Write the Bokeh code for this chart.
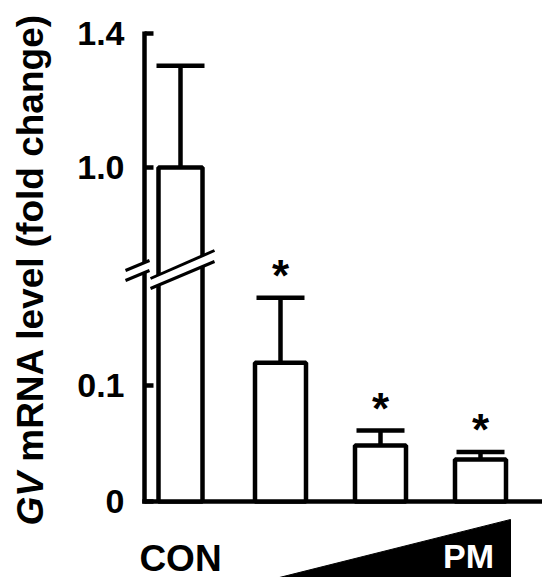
import math
from bokeh.plotting import figure
from bokeh.models import (ColumnDataSource, CustomJSTransform, FixedTicker,
                          Label, PolyAnnotation, Arrow, Range1d)
from bokeh.transform import transform
from bokeh.core.properties import value
from bokeh.embed import file_html
from bokeh.resources import INLINE

# ---------------- data ----------------
categories = ["CON", "PM low", "PM mid", "PM high"]
means = [1.0, 0.119, 0.048, 0.036]
errors = [0.304, 0.056, 0.013, 0.0065]
significance = ["", "*", "*", "*"]
tick_values = [0, 0.1, 1.0, 1.4]
tick_labels = ["0", "0.1", "1.0", "1.4"]
dose_label = "PM"

# ---------------- broken-axis scale (display units ~ px) ----------------
LOW_SCALE = 1165.0   # 0 .. CUT
HIGH_BASE = 334.0    # display position of 1.0
HIGH_SCALE = 335.0
CUT = 0.4


def to_display(v):
    return v * LOW_SCALE if v <= CUT else HIGH_BASE + (v - 1.0) * HIGH_SCALE


brk = CustomJSTransform(
    args=dict(lo=LOW_SCALE, base=HIGH_BASE, hi=HIGH_SCALE, cut=CUT),
    func="return x <= cut ? x*lo : base + (x - 1.0)*hi;",
    v_func="""
const out = new Array(xs.length);
for (let i = 0; i < xs.length; i++) {
  const v = xs[i];
  out[i] = v <= cut ? v*lo : base + (v - 1.0)*hi;
}
return out;
""")

FONT = "Liberation Sans"
BAR_W = [0.44, 0.51, 0.51, 0.51]
CAP_HALF = 0.24
LW = 4.5
AXIS_X = -0.36

xs = list(range(len(categories)))
src = ColumnDataSource(dict(
    x=xs,
    cat=categories,
    mean=means,
    cap=[m + e for m, e in zip(means, errors)],
    cap_l=[x - CAP_HALF for x in xs],
    cap_r=[x + CAP_HALF for x in xs],
    w=BAR_W,
    sig=significance,
))

p = figure(width=542, height=577,
           x_range=Range1d(-1.80, 3.62), y_range=Range1d(-76, 501),
           output_backend="svg", toolbar_location=None,
           min_border_left=0, min_border_right=0,
           min_border_top=0, min_border_bottom=0)
p.outline_line_color = None
p.grid.visible = False
p.xaxis.visible = False

# y axis (placed inside the frame so the break marks can cross it)
yax = p.yaxis[0]
yax.fixed_location = AXIS_X
tick_pos = [round(to_display(v), 2) for v in tick_values]
yax.ticker = FixedTicker(ticks=tick_pos, minor_ticks=[])
yax.major_label_overrides = {t: l for t, l in zip(tick_pos, tick_labels)}
yax.bounds = (-2.25, tick_pos[-1] + 2.25)
yax.axis_line_width = LW
yax.axis_line_color = "black"
yax.major_tick_in = 9
yax.major_tick_out = 0
yax.major_tick_line_width = LW
yax.minor_tick_line_color = None
yax.major_label_standoff = 20
yax.major_label_text_font = FONT
yax.major_label_text_font_style = "bold"
yax.major_label_text_font_size = "34px"
yax.major_label_text_color = "black"

# baseline (x axis line), from the y axis to the right edge
p.segment(x0=[AXIS_X - 0.0225], x1=[10], y0=[0], y1=[0],
          line_color="black", line_width=LW)

# bars
p.vbar(x="x", width="w", bottom=0, top=transform("mean", brk), source=src,
       fill_color="white", line_color="black", line_width=LW)
# error bars (upper only)
p.segment(x0="x", x1="x", y0=transform("mean", brk), y1=transform("cap", brk),
          source=src, line_color="black", line_width=LW)
p.segment(x0="cap_l", x1="cap_r", y0=transform("cap", brk), y1=transform("cap", brk),
          source=src, line_color="black", line_width=LW)
# significance stars
p.text(x="x", y=transform("cap", brk), text="sig", source=src, y_offset=-22,
       text_align="center", text_baseline="alphabetic",
       text_font=value(FONT), text_font_style="bold", text_font_size="44px",
       text_color="black")

# axis-break marks
AX_BREAK = ((-0.55, -0.31), (231, 241), (221, 231))
BAR_BREAK = ((-0.30, 0.34), (223, 251), (213, 240))
for (xa, xb), (ua, ub), (la, lb) in (AX_BREAK, BAR_BREAK):
    p.add_layout(PolyAnnotation(xs=[xa, xb, xb, xa], ys=[ua, ub, lb, la],
                                xs_units="data", ys_units="data",
                                fill_color="white", fill_alpha=1.0,
                                line_color=None, level="overlay"))
    for ya, yb in ((ua, ub), (la, lb)):
        p.add_layout(Arrow(start=None, end=None, x_start=xa, y_start=ya,
                           x_end=xb, y_end=yb, line_color="black",
                           line_width=3, level="overlay"))

# x category labelling: CON + dose wedge
p.text(x=[xs[0]], y=[-56.5], text=[categories[0]], text_align="center",
       text_baseline="middle", text_font=value(FONT), text_font_style="bold",
       text_font_size="37px", text_color="black")
p.patch(x=[0.67, 3.30, 3.30], y=[-84, -18, -84], fill_color="black",
        line_color="black", line_width=1)
p.text(x=[2.88], y=[-54], text=[dose_label], text_align="center",
       text_baseline="middle", text_font=value(FONT), text_font_style="bold",
       text_font_size="34px", text_color="white")

# y-axis title (GV italic)
TITLE_SIZE = 37
TITLE_X = -1.50
TITLE_Y0 = -24
p.add_layout(Label(x=TITLE_X, y=TITLE_Y0, text="GV", angle=math.pi / 2,
                   text_font=FONT, text_font_style="bold italic",
                   text_font_size=f"{TITLE_SIZE}px", text_align="left",
                   text_baseline="middle", text_color="black"))
p.add_layout(Label(x=TITLE_X, y=TITLE_Y0 + (1.445 + 0.278) * TITLE_SIZE,
                   text="mRNA level (fold change)", angle=math.pi / 2,
                   text_font=FONT, text_font_style="bold",
                   text_font_size=f"{TITLE_SIZE}px", text_align="left",
                   text_baseline="middle", text_color="black"))

open("out.html", "w").write(file_html(p, INLINE))
